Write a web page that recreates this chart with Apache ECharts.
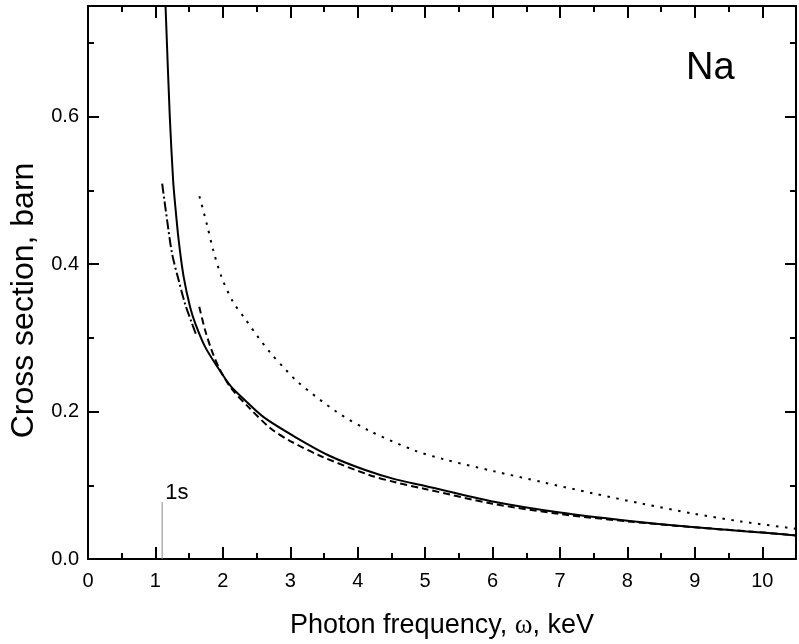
<!DOCTYPE html>
<html>
<head>
<meta charset="utf-8">
<script src="https://cdn.jsdelivr.net/npm/echarts@6/dist/echarts.min.js"></script>
<style>
html,body{margin:0;padding:0;background:#fff;}
#c{width:799px;height:644px;}
</style>
</head>
<body>
<div id="c"></div>
<script>
// ---- data ----
const solidX = [1.15, 1.213, 1.262, 1.287, 1.345, 1.418, 1.516, 1.589, 1.735, 1.93, 2.12, 2.32, 2.61, 3.1, 3.58, 4.1, 4.56, 5.0, 6.0, 7.0, 8.0, 9.0, 10.0, 10.5];
const solidY = [0.75, 0.60, 0.514, 0.486, 0.432, 0.383, 0.341, 0.320, 0.288, 0.259, 0.234, 0.216, 0.192, 0.164, 0.140, 0.121, 0.108, 0.099, 0.078, 0.063, 0.052, 0.043, 0.036, 0.032];

const dashDotX = [1.10, 1.174, 1.247, 1.345, 1.443, 1.54, 1.613];
const dashDotY = [0.509, 0.459, 0.414, 0.378, 0.345, 0.320, 0.302];

const dashX = [1.65, 1.735, 1.83, 1.955, 2.12, 2.37, 2.71, 3.0, 3.44, 4.17, 4.56, 5.0, 6.0, 7.0, 8.0, 9.0, 10.0, 10.5];
const dashY = [0.342, 0.311, 0.284, 0.257, 0.232, 0.207, 0.177, 0.160, 0.140, 0.114, 0.104, 0.095, 0.075, 0.061, 0.051, 0.043, 0.036, 0.032];

const dotX = [1.652, 1.76, 1.857, 1.978, 2.149, 2.344, 2.515, 2.71, 2.93, 3.124, 3.68, 4.17, 4.85, 5.29, 6.02, 6.75, 7.49, 8.22, 8.95, 9.68, 10.5];
const dotY = [0.492, 0.455, 0.419, 0.383, 0.349, 0.324, 0.302, 0.279, 0.257, 0.239, 0.200, 0.174, 0.147, 0.135, 0.119, 0.104, 0.089, 0.075, 0.062, 0.051, 0.041];

const markerX = [1.1, 1.1];
const markerY = [0, 0.077];
const markerLabel = '1s';

const xTitle = 'Photon frequency, {w|\u03c9}, keV';
const yTitle = 'Cross section, barn';
const panelLabel = 'Na';

const zip = (xs, ys) => xs.map((x, i) => [x, ys[i]]);

const FONT = "'Liberation Sans', Arial, sans-serif";
const black = '#000';

function xAx(opts) {
  return Object.assign({
    type: 'value', min: 0, max: 10.5, gridIndex: 0,
    axisLine: { show: false, onZero: false, lineStyle: { color: black, width: 2 } },
    axisTick: { show: true, inside: true, length: 12, lineStyle: { color: black, width: 2 } },
    axisLabel: { show: false },
    splitLine: { show: false }
  }, opts);
}
function yAx(opts) {
  return Object.assign({
    type: 'value', min: 0, max: 0.75, gridIndex: 0,
    axisLine: { show: false, onZero: false, lineStyle: { color: black, width: 2 } },
    axisTick: { show: true, inside: true, length: 11, lineStyle: { color: black, width: 2 } },
    axisLabel: { show: false },
    splitLine: { show: false }
  }, opts);
}
const lineBase = { type: 'line', xAxisIndex: 0, yAxisIndex: 0, showSymbol: false, smooth: 0.3, clip: true };

const chart = echarts.init(document.getElementById('c'), null, { renderer: 'canvas' });
chart.setOption({
  backgroundColor: '#fff',
  animation: false,
  grid: { left: 88, top: 6, right: -8, bottom: 84, containLabel: false },
  xAxis: [
    xAx({
      position: 'bottom', interval: 1,
      axisLine: { show: true, onZero: false, lineStyle: { color: black, width: 2 } },
      axisLabel: {
        show: true, color: black, fontSize: 20, fontFamily: FONT, margin: 12,
        formatter: v => (Math.abs(v - Math.round(v)) < 1e-6 ? String(Math.round(v)) : '')
      },
      name: xTitle, nameLocation: 'middle', nameGap: 53,
      nameTextStyle: {
        color: black, fontSize: 27, fontFamily: FONT,
        rich: { w: { fontFamily: "'Liberation Serif', 'Times New Roman', serif", fontSize: 27, color: black } }
      }
    }),
    xAx({ position: 'bottom', interval: 0.5, axisTick: { show: true, inside: true, length: 6, lineStyle: { color: black, width: 2 } } }),
    xAx({ position: 'top', interval: 1, axisLine: { show: true, onZero: false, lineStyle: { color: black, width: 2 } } }),
    xAx({ position: 'top', interval: 0.5, axisTick: { show: true, inside: true, length: 6, lineStyle: { color: black, width: 2 } } })
  ],
  yAxis: [
    yAx({
      position: 'left', interval: 0.2,
      axisLine: { show: true, onZero: false, lineStyle: { color: black, width: 2 } },
      axisLabel: {
        show: true, color: black, fontSize: 20, fontFamily: FONT, margin: 9, showMaxLabel: false,
        formatter: v => v.toFixed(1)
      },
      name: yTitle, nameLocation: 'middle', nameGap: 47, nameRotate: 90,
      nameTextStyle: { color: black, fontSize: 32, fontFamily: FONT, padding: [0, 36, 0, 0] }
    }),
    yAx({ position: 'left', interval: 0.1, axisTick: { show: true, inside: true, length: 6, lineStyle: { color: black, width: 2 } } }),
    yAx({ position: 'right', interval: 0.2, axisLine: { show: true, onZero: false, lineStyle: { color: black, width: 2 } } }),
    yAx({ position: 'right', interval: 0.1, axisTick: { show: true, inside: true, length: 6, lineStyle: { color: black, width: 2 } } })
  ],
  graphic: [
    { type: 'text', left: 686, top: 50, style: { text: panelLabel, fontSize: 38, fontFamily: FONT, fill: black } }
  ],
  series: [
    Object.assign({}, lineBase, { name: 'solid', data: zip(solidX, solidY), lineStyle: { color: black, width: 2 } }),
    Object.assign({}, lineBase, { name: 'dashdot', data: zip(dashDotX, dashDotY), lineStyle: { color: black, width: 2, type: [10, 3, 2, 3] } }),
    Object.assign({}, lineBase, { name: 'dashed', data: zip(dashX, dashY), lineStyle: { color: black, width: 2, type: [7, 4] } }),
    Object.assign({}, lineBase, { name: 'dotted', data: zip(dotX, dotY), lineStyle: { color: black, width: 2, type: [2.5, 6.5] } }),
    {
      name: 'threshold', type: 'line', xAxisIndex: 0, yAxisIndex: 0,
      data: zip(markerX, markerY), showSymbol: false, clip: true,
      lineStyle: { color: '#888', width: 1 },
      endLabel: {
        show: true, formatter: markerLabel, color: black, fontSize: 22, fontFamily: FONT,
        distance: 3, offset: [0, -9]
      }
    }
  ]
});
</script>
</body>
</html>
